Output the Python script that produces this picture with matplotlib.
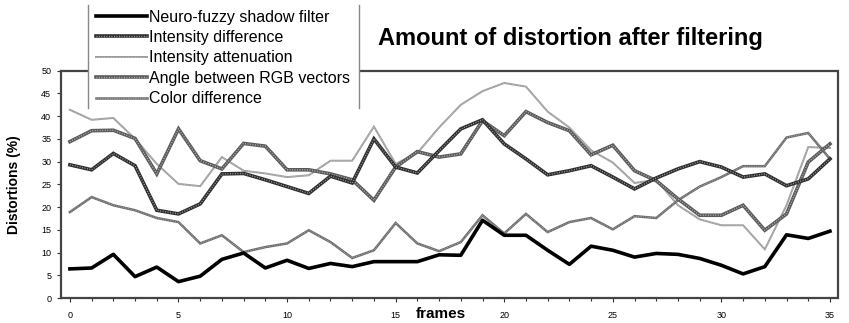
import matplotlib
matplotlib.use('Agg')
import matplotlib.pyplot as plt
from matplotlib.patches import Rectangle
from matplotlib.lines import Line2D

plt.rcParams['font.family'] = ['Liberation Sans', 'DejaVu Sans']

frames = list(range(36))

neuro_fuzzy = [6.4, 6.6, 9.6, 4.7, 6.8, 3.6, 4.8, 8.5, 9.9, 6.6,
               8.3, 6.5, 7.6, 6.9, 8.0, 8.0, 8.0, 9.5, 9.4, 17.1,
               13.8, 13.8, 10.5, 7.4, 11.4, 10.5, 9.0, 9.8, 9.6, 8.7,
               7.2, 5.3, 6.9, 13.9, 13.1, 14.7]
intensity_diff = [29.3, 28.2, 31.8, 29.1, 19.3, 18.5, 20.7, 27.3, 27.4, 26.0,
                  24.5, 23.0, 26.8, 25.3, 35.0, 28.8, 27.5, 32.4, 37.2, 39.2,
                  33.9, 30.6, 27.1, 28.0, 29.1, 26.6, 24.0, 26.4, 28.4, 30.0,
                  28.8, 26.6, 27.3, 24.7, 26.2, 30.6]
intensity_att = [41.4, 39.2, 39.6, 35.0, 29.5, 25.1, 24.6, 31.0, 28.0, 27.4,
                 26.6, 27.0, 30.2, 30.2, 37.7, 29.5, 31.9, 37.5, 42.5, 45.5,
                 47.3, 46.5, 41.0, 37.5, 32.5, 29.8, 25.3, 26.0, 20.4, 17.3,
                 16.0, 16.0, 10.7, 20.4, 33.2, 33.0]
angle_rgb = [34.4, 36.8, 36.9, 35.1, 27.3, 37.2, 30.2, 28.4, 34.0, 33.4,
             28.2, 28.2, 27.3, 26.0, 21.5, 28.8, 32.2, 31.0, 31.7, 39.0,
             35.7, 41.0, 38.6, 36.8, 31.5, 33.6, 28.0, 25.8, 21.8, 18.2,
             18.2, 20.4, 14.9, 18.5, 29.9, 33.9]
color_diff = [18.9, 22.2, 20.4, 19.3, 17.6, 16.7, 12.0, 13.8, 10.1, 11.2,
              12.0, 14.9, 12.3, 8.8, 10.5, 16.5, 12.0, 10.3, 12.3, 18.2,
              14.2, 18.5, 14.5, 16.7, 17.6, 15.1, 18.0, 17.6, 21.5, 24.5,
              26.6, 29.0, 29.0, 35.3, 36.3, 30.6]

labels = ['Neuro-fuzzy shadow filter', 'Intensity difference',
          'Intensity attenuation', 'Angle between RGB vectors',
          'Color difference']

fig = plt.figure(figsize=(8.49, 3.23), dpi=100)
ax = fig.add_axes([61/849, 1 - 298/323, (838 - 61)/849, (298 - 70.7)/323])


def checkered(x, y, color, lw, dot_lw):
    # grey base with a fine white dot pattern on top, like a dithered print
    base, = ax.plot(x, y, color=color, lw=lw, solid_joinstyle='miter')
    over, = ax.plot(x, y, color='white', lw=dot_lw, ls=(0, (0.6, 1.2)), alpha=0.6)
    return (base, over)


h_att = checkered(frames, intensity_att, '#9a9a9a', 1.4, 0.6)
h_col = checkered(frames, color_diff, '#6a6a6a', 1.8, 0.7)
h_ang = checkered(frames, angle_rgb, '#5a5a5a', 2.6, 1.0)
h_diff = checkered(frames, intensity_diff, '#2e2e2e', 2.6, 1.0)
h_nf, = ax.plot(frames, neuro_fuzzy, color='black', lw=2.6)

ax.set_xlim(-0.41, 35.37)
ax.set_ylim(0, 50)
ax.set_xticks(range(0, 36, 5))
ax.set_xticks(range(0, 36), minor=True)
ax.set_yticks(range(0, 51, 5))
ax.tick_params(axis='both', labelsize=6.5, length=3, width=0.8, color='#333333', pad=4)
ax.tick_params(axis='x', which='minor', length=2, width=0.8, color='#333333')
ax.tick_params(axis='x', which='major', pad=6)
for s in ax.spines.values():
    s.set_linestyle((0, (1, 1)))
    s.set_linewidth(1.6)
    s.set_color('#444444')

fig.text(14/849, 1 - 185/323, 'Distortions (%)', rotation=90, fontsize=10,
         fontweight='bold', ha='center', va='center')
fig.text(441/849, 1 - 314/323, 'frames', fontsize=11, fontweight='bold',
         ha='center', va='center')
fig.text(570/849, 1 - 38/323, 'Amount of distortion after filtering',
         fontsize=17, fontweight='bold', ha='center', va='center')

# legend panel sits over the top of the plot frame
fig.patches.append(Rectangle((88/849, 1 - 108/323), (359 - 88)/849, 103/323,
                             transform=fig.transFigure, facecolor='white',
                             edgecolor='none', zorder=2))
for xl in (88, 359):
    fig.lines.append(Line2D([xl/849, xl/849], [1 - 108/323, 1 - 5/323],
                            transform=fig.transFigure, color='#888888',
                            lw=1.0, zorder=3))

fig.legend([h_nf, h_diff, h_att, h_ang, h_col], labels,
           loc='upper left', bbox_to_anchor=(94/849, 1 - 8/323),
           frameon=False, fontsize=11.5, handlelength=3.2, handletextpad=0.15,
           labelspacing=0.34, borderpad=0.1, borderaxespad=0)

fig.savefig('out.png', dpi=100)
